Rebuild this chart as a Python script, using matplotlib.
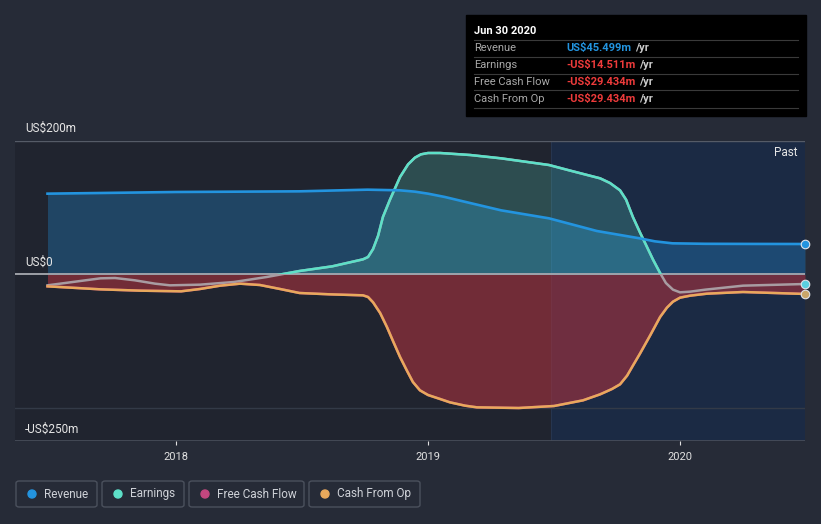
import matplotlib
matplotlib.use("Agg")
import matplotlib.pyplot as plt
from matplotlib.patches import Rectangle, FancyBboxPatch, Ellipse
import numpy as np

plt.rcParams['font.family'] = ['Roboto', 'DejaVu Sans']

# data (decimal years, US$m)
rev_x = [2017.49, 2017.70, 2018.0, 2018.49, 2018.76, 2018.889, 2018.948, 2019.0, 2019.067,
         2019.15, 2019.29, 2019.48, 2019.67, 2019.84, 2019.90, 2019.97, 2020.1, 2020.3, 2020.496]
rev_y = [121, 122, 123.5, 124.5, 127, 126, 124, 121, 116, 108.5, 96, 84, 65, 54, 49.5, 46.5,
         45.8, 45.6, 45.499]

earn_x = [2017.49, 2017.60, 2017.70, 2017.758, 2017.837, 2017.917, 2017.976, 2018.095,
          2018.23, 2018.36, 2018.49, 2018.62, 2018.742, 2018.762, 2018.782, 2018.802, 2018.821,
          2018.849, 2018.889, 2018.921, 2018.948, 2018.972, 2019.0, 2019.048, 2019.167,
          2019.29, 2019.48, 2019.56, 2019.683, 2019.722, 2019.762, 2019.786, 2019.813,
          2019.841, 2019.869, 2019.893, 2019.921, 2019.944, 2019.972, 2020.0, 2020.04,
          2020.1, 2020.25, 2020.496]
earn_y = [-16.5, -11, -6, -5.5, -9, -14, -16.5, -15.5, -11.5, -4, 5, 12, 22.5, 26, 38, 58, 86,
          112, 146, 165, 175, 180, 182, 182, 179, 174, 164, 156, 144, 137, 126, 112, 86, 63,
          41, 22, 2, -13, -23, -27, -26, -23, -17, -14.511]

cfo_x = [2017.49, 2017.70, 2017.86, 2018.02, 2018.095, 2018.175, 2018.254, 2018.333, 2018.413,
         2018.49, 2018.611, 2018.742, 2018.762, 2018.782, 2018.81, 2018.837, 2018.861, 2018.889,
         2018.917, 2018.94, 2018.968, 2019.0, 2019.048, 2019.087, 2019.147, 2019.194, 2019.36,
         2019.50, 2019.615, 2019.683, 2019.73, 2019.762, 2019.79, 2019.813, 2019.841, 2019.881,
         2019.921, 2019.948, 2019.972, 2020.0, 2020.04, 2020.107, 2020.25, 2020.496]
cfo_y = [-18, -22.5, -24.5, -25.5, -22, -17, -14, -16, -22, -28, -30, -31.5, -34, -42, -58,
         -79, -100, -124, -145, -161.5, -174, -181, -187, -192, -197, -199.5, -200.5, -197.5,
         -189, -180, -172, -165, -152, -137, -119, -92, -64, -50, -41, -35, -32, -29, -26.5,
         -29.434]
fcf_x = cfo_x
fcf_y = cfo_y

years = [2018, 2019, 2020]
xmin, xmax = 2017.361, 2020.496
past_start = 2019.49

c_rev = '#2394df'
c_earn = '#5de0c8'
c_fcf = '#c2477f'
c_cfo = '#e8a95c'
c_earn_neg = '#a89ca2'

W, H = 821, 524
fig = plt.figure(figsize=(W / 100, H / 100), dpi=100)
fig.patch.set_facecolor('#262b37')


def fx(px):
    return px / W


def fy(py):
    return 1 - py / H


ax = fig.add_axes([fx(15), fy(441), fx(805) - fx(15), fy(141) - fy(441)])
ax.set_facecolor('#20242f')
ax.set_xlim(xmin, xmax)
ax.set_ylim(-250, 200)
for s in ax.spines.values():
    s.set_visible(False)

ax.axvspan(past_start, xmax, color='#1a2d4c', alpha=0.75, lw=0, zorder=0)
ax.axvline(past_start, color='#26354f', lw=0.8, zorder=0.5)

ax.axhline(200, color='#555b67', lw=1, zorder=1)
ax.axhline(-200, color='#333a47', lw=1, zorder=1)
ax.axhline(-250, color='#4a505c', lw=1.2, zorder=1)

# fills
ax.fill_between(rev_x, rev_y, 0, color=c_rev, alpha=0.3, lw=0, zorder=2)
ex = np.array(earn_x)
ey = np.array(earn_y)
ax.fill_between(ex, ey, 0, where=ey > 0, interpolate=True, color=c_earn, alpha=0.22, lw=0, zorder=2)
ax.fill_between(fcf_x, fcf_y, 0, color='#a8323e', alpha=0.6, lw=0, zorder=2)

ax.axhline(0, color='#a7a9b0', lw=1.3, zorder=3)

# lines
ax.plot(rev_x, rev_y, color=c_rev, lw=1.9, zorder=5, solid_joinstyle='round')
ax.plot(earn_x, earn_y, color=c_earn_neg, lw=1.8, zorder=4, solid_joinstyle='round')
pos_line, = ax.plot(earn_x, earn_y, color=c_earn, lw=1.8, zorder=4.5, solid_joinstyle='round')
clip = Rectangle((xmin, 0), xmax - xmin, 250, transform=ax.transData)
pos_line.set_clip_path(clip)
ax.plot(fcf_x, fcf_y, color=c_fcf, lw=1.8, zorder=4)
ax.plot(cfo_x, cfo_y, color=c_cfo, lw=1.8, zorder=4.6, solid_joinstyle='round')

# end markers
for yv, c in [(rev_y[-1], c_rev), (earn_y[-1], '#5ad0e0'), (cfo_y[-1], '#c9a66a')]:
    ax.scatter([xmax], [yv], s=38, color=c, edgecolors='#dfe3ea', linewidths=0.8,
               zorder=8, clip_on=False)

# axes text
ax.set_yticks([])
ax.set_xticks(years)
ax.set_xticklabels([str(y) for y in years])
ax.tick_params(axis='x', colors='#e0e0e0', labelsize=8, length=3, width=0.8, pad=5)
for t in ax.xaxis.get_ticklines():
    t.set_color('#5a606c')

fig.text(fx(25), fy(128), 'US$200m', color='#e6e6e6', fontsize=8.5, va='center')
fig.text(fx(25), fy(262), 'US$0', color='#e6e6e6', fontsize=8.5, va='center')
fig.text(fx(25), fy(429), '-US$250m', color='#e6e6e6', fontsize=8.5, va='center')
fig.text(fx(797), fy(153), 'Past', color='#e6e6e6', fontsize=8.5, va='center', ha='right')

# tooltip
fig.patches.append(Rectangle((fx(466), fy(116)), fx(806) - fx(466), fy(15) - fy(116),
                             transform=fig.transFigure, color='black', zorder=10))
fig.text(fx(474), fy(31), 'Jun 30 2020', color='white', fontsize=8, fontweight='bold',
         va='center', zorder=11)
rows = [('Revenue', 'US$45.499m', '#2394df'),
        ('Earnings', '-US$14.511m', '#ee3b3b'),
        ('Free Cash Flow', '-US$29.434m', '#ee3b3b'),
        ('Cash From Op', '-US$29.434m', '#ee3b3b')]
vals = []
for i, (lab, val, col) in enumerate(rows):
    yy = 48 + i * 17
    fig.lines.append(plt.Line2D([fx(474), fx(798)], [fy(yy - 8.5), fy(yy - 8.5)],
                                transform=fig.transFigure, color='#3a3a3a', lw=0.8, zorder=11))
    fig.text(fx(474), fy(yy), lab, color='#a8a8a8', fontsize=8, va='center', zorder=11)
    t = fig.text(fx(566), fy(yy), val, color=col, fontsize=8, fontweight='bold', va='center', zorder=11)
    vals.append((t, yy))
fig.lines.append(plt.Line2D([fx(474), fx(798)], [fy(108.5), fy(108.5)],
                            transform=fig.transFigure, color='#3a3a3a', lw=0.8, zorder=11))

fig.canvas.draw()
for t, yy in vals:
    bb = t.get_window_extent()
    fig.text(fx(bb.x1 + 4), fy(yy), '/yr', color='#cccccc', fontsize=8, fontweight='bold',
             va='center', zorder=11)

# legend
legend_items = [('Revenue', c_rev, 16, 97), ('Earnings', c_earn, 102, 184),
                ('Free Cash Flow', c_fcf, 189, 304), ('Cash From Op', c_cfo, 309, 420)]
for name, col, x0, x1 in legend_items:
    fig.patches.append(FancyBboxPatch((fx(x0), fy(507)), fx(x1) - fx(x0), fy(481) - fy(507),
                                      boxstyle='round,pad=0,rounding_size=0.004',
                                      transform=fig.transFigure, facecolor='none',
                                      edgecolor='#4b515d', lw=1))
    fig.patches.append(Ellipse((fx(x0 + 16), fy(494)), 8 / W, 8 / H,
                               transform=fig.transFigure, color=col))
    fig.text(fx(x0 + 28), fy(494), name, color='#cfd2d8', fontsize=8.5, va='center')

fig.savefig('out.png', dpi=100, facecolor=fig.get_facecolor())
